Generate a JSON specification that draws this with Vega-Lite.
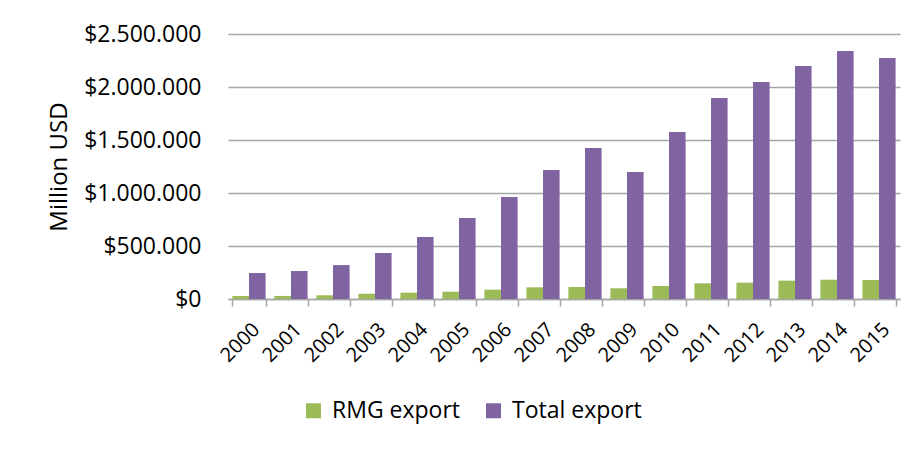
{
  "$schema": "https://vega.github.io/schema/vega-lite/v6.json",
  "width": 672,
  "height": 265,
  "autosize": "none",
  "padding": {"left": 228, "top": 34, "right": 23, "bottom": 153},
  "background": "white",
  "config": {"view": {"stroke": null}, "font": "Open Sans"},
  "data": {
    "values": [
      {"year": "2000", "series": "RMG export", "value": 28000},
      {"year": "2000", "series": "Total export", "value": 245000},
      {"year": "2001", "series": "RMG export", "value": 29000},
      {"year": "2001", "series": "Total export", "value": 264000},
      {"year": "2002", "series": "RMG export", "value": 35000},
      {"year": "2002", "series": "Total export", "value": 320000},
      {"year": "2003", "series": "RMG export", "value": 50000},
      {"year": "2003", "series": "Total export", "value": 434000},
      {"year": "2004", "series": "RMG export", "value": 60000},
      {"year": "2004", "series": "Total export", "value": 585000},
      {"year": "2005", "series": "RMG export", "value": 69000},
      {"year": "2005", "series": "Total export", "value": 764000},
      {"year": "2006", "series": "RMG export", "value": 88000},
      {"year": "2006", "series": "Total export", "value": 962000},
      {"year": "2007", "series": "RMG export", "value": 110000},
      {"year": "2007", "series": "Total export", "value": 1217000},
      {"year": "2008", "series": "RMG export", "value": 113000},
      {"year": "2008", "series": "Total export", "value": 1425000},
      {"year": "2009", "series": "RMG export", "value": 101000},
      {"year": "2009", "series": "Total export", "value": 1198000},
      {"year": "2010", "series": "RMG export", "value": 123000},
      {"year": "2010", "series": "Total export", "value": 1575000},
      {"year": "2011", "series": "RMG export", "value": 148000},
      {"year": "2011", "series": "Total export", "value": 1896000},
      {"year": "2012", "series": "RMG export", "value": 154000},
      {"year": "2012", "series": "Total export", "value": 2047000},
      {"year": "2013", "series": "RMG export", "value": 173000},
      {"year": "2013", "series": "Total export", "value": 2198000},
      {"year": "2014", "series": "RMG export", "value": 182000},
      {"year": "2014", "series": "Total export", "value": 2340000},
      {"year": "2015", "series": "RMG export", "value": 179000},
      {"year": "2015", "series": "Total export", "value": 2274000}
    ]
  },
  "mark": {"type": "bar"},
  "encoding": {
    "x": {
      "field": "year",
      "type": "nominal",
      "scale": {"paddingInner": 0.21, "paddingOuter": 0.105},
      "axis": {
        "title": null,
        "labelAngle": -45,
        "labelAlign": "right",
        "labelBaseline": "top",
        "labelDx": -4,
        "tickBand": "extent",
        "ticks": true,
        "tickSize": 7,
        "tickColor": "#A6A6A6",
        "tickWidth": 1.5,
        "domainColor": "#A6A6A6",
        "domainWidth": 1.5,
        "labelFontSize": 20,
        "labelColor": "black",
        "labelPadding": 13,
        "grid": false
      }
    },
    "y": {
      "field": "value",
      "type": "quantitative",
      "scale": {"domain": [0, 2500000]},
      "axis": {
        "values": [0, 500000, 1000000, 1500000, 2000000, 2500000],
        "title": "Million USD",
        "labelExpr": "'$' + replace(replace(format(datum.value, ','), ',', '.'), ',', '.')",
        "grid": true,
        "gridColor": "#A6A6A6",
        "gridWidth": 1.5,
        "domain": false,
        "ticks": false,
        "labelPadding": 27,
        "labelFontSize": 23,
        "labelColor": "black",
        "titleFontSize": 24,
        "titleFontWeight": "normal",
        "titleColor": "black",
        "titlePadding": 12
      }
    },
    "xOffset": {
      "field": "series",
      "sort": ["RMG export", "Total export"],
      "scale": {"paddingInner": 0, "paddingOuter": 0}
    },
    "color": {
      "field": "series",
      "type": "nominal",
      "scale": {"domain": ["RMG export", "Total export"], "range": ["#9BBB59", "#8064A2"]},
      "legend": {
        "orient": "none",
        "legendX": 74,
        "legendY": 365,
        "direction": "horizontal",
        "title": null,
        "symbolType": "square",
        "symbolSize": 225,
        "symbolStrokeWidth": 0,
        "labelFontSize": 23,
        "labelOffset": 7,
        "labelColor": "black",
        "columnPadding": 21
      }
    }
  }
}
